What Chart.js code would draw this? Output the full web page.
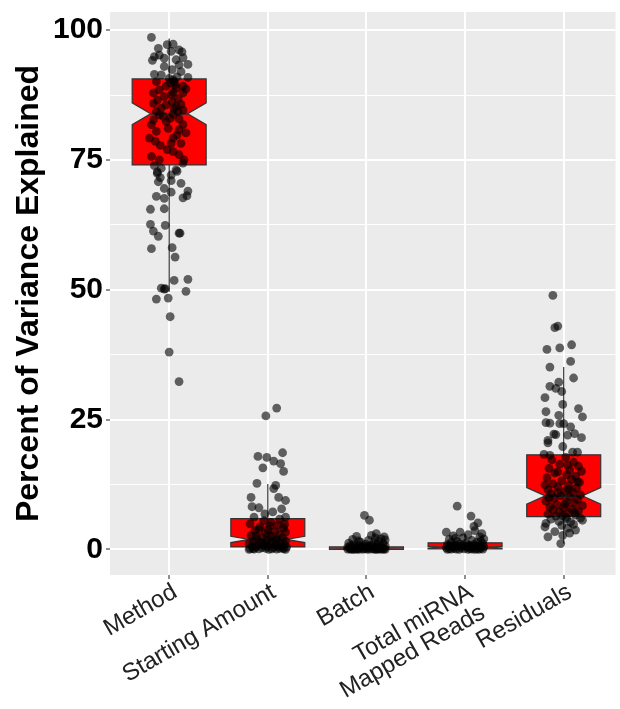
<!DOCTYPE html>
<html><head><meta charset="utf-8">
<script src="https://cdn.jsdelivr.net/npm/chart.js@4.4.0/dist/chart.umd.min.js"></script>
<style>html,body{margin:0;padding:0;background:#fff;overflow:hidden}#wrap{width:620px;height:709px;position:relative}</style>
</head><body><div id="wrap"><canvas id="c" width="620" height="709"></canvas></div>
<script>
const categories = ['Method','Starting Amount','Batch','Total miRNA Mapped Reads','Residuals'];
const tickLabels = ['Method','Starting Amount','Batch',['Total miRNA','Mapped Reads'],'Residuals'];
const yTickValues = [0,25,50,75,100];
const yMinorValues = [12.5,37.5,62.5,87.5];

// box statistics per category
const lowerWhisker = [49.6, 0.0, 0.0, 0.0, 1.1];
const lowerHinge   = [74.05, 0.45, 0.0, 0.1, 6.3];
const medians      = [83.9, 1.9, 0.1, 0.4, 10.3];
const upperHinge   = [90.6, 5.9, 0.45, 1.25, 18.2];
const upperWhisker = [98.4, 12.6, 1.1, 3.0, 35.1];
const notchLow     = [81.8, 1.3, 0.05, 0.25, 8.7];
const notchHigh    = [86.0, 2.5, 0.15, 0.55, 11.9];

// jittered points: [value, jitter offset in category units]
const methodPoints = [
[72.7,-0.12],[72.8,0.08],[71.6,-0.09],[70.8,-0.11],[71.0,0.02],[70.5,0.12],[69.5,-0.05],[68.8,0.02],[69.0,0.19],[68.1,0.18],
[67.7,0.14],[68.0,-0.13],[67.6,-0.05],[65.5,-0.19],[65.6,-0.05],[62.6,-0.19],[62.4,-0.04],[61.3,-0.16],[60.9,0.11],[60.9,0.10],
[60.3,-0.11],[57.9,-0.18],[58.1,0.03],[56.3,0.06],[51.8,0.05],[52.0,0.19],[49.7,0.17],[50.3,-0.08],[50.2,-0.04],[50.1,-0.05],
[48.2,-0.13],[48.4,-0.01],[44.8,0.01],[38.0,0.00],[32.3,0.10],
[98.6,-0.18],[97.2,-0.02],[97.3,0.04],[96.5,-0.11],[96.2,0.10],[95.8,0.13],[95.9,0.02],[94.9,-0.15],[94.2,-0.17],[95.2,-0.10],
[94.6,-0.05],[94.3,0.07],[94.7,0.14],[93.4,0.19],[93.0,-0.05],[93.3,0.10],[92.4,0.03],[92.0,0.12],[91.5,-0.15],[91.4,-0.08],
[90.9,0.19],[90.7,0.00],[90.4,0.04],[90.1,-0.13],[89.8,0.01],[90.1,0.05],[89.2,0.14],[89.2,-0.03],[88.7,0.17],[88.5,-0.10],
[88.8,0.07],[87.9,-0.16],[87.9,0.14],[87.2,-0.05],[86.8,0.09],[87.6,0.02],[85.9,-0.16],[85.6,-0.03],[85.3,0.07],[85.7,0.12],
[84.6,0.14],[84.3,-0.13],[83.7,-0.10],[83.4,-0.06],[83.8,0.04],[84.3,0.09],[82.7,-0.16],[82.4,-0.03],[82.9,0.10],[81.8,0.14],
[81.8,-0.18],[81.1,-0.01],[80.8,0.10],[80.5,-0.13],[80.2,0.17],[79.2,-0.20],[79.2,0.04],[78.6,-0.14],[77.8,-0.09],[78.2,0.02],
[78.2,0.12],[76.6,0.04],[76.0,0.10],[75.7,-0.18],[75.0,-0.10],[75.0,0.15],[74.4,0.14],[73.9,-0.15],[73.4,-0.08],[73.1,0.07],
[72.4,-0.12],[72.1,0.02],[89.5,0.06],[86.2,0.03],[84.9,0.05],[83.0,0.01],[85.0,-0.08],[88.0,0.04],[91.0,0.08],[86.5,-0.12],
[79.8,0.08],[77.0,-0.02]
];
const startingPoints = [
[27.2,0.09],[25.7,-0.02],[17.9,-0.10],[17.7,-0.01],[18.6,0.15],[17.0,0.06],[16.5,0.13],[15.7,-0.05],[15.0,0.16],[12.7,-0.11],
[12.3,0.08],[11.7,0.06],[10.0,-0.17],[10.0,0.11],[9.4,0.18],[8.2,-0.16],[8.0,-0.09],[7.8,0.14],[6.2,-0.14],[6.2,0.18],
[5.5,-0.04],[5.2,0.03],[4.9,-0.18],[4.6,0.10],[4.3,-0.08],[4.1,0.16],[3.8,0.00],[3.6,-0.13],[3.4,0.07],[3.1,-0.02],
[2.9,0.12],[2.7,-0.17],[2.5,0.04],[2.3,-0.06],[2.2,0.15],[2.0,-0.11],[1.9,0.09],[1.7,-0.01],[1.6,0.18],[1.5,-0.15],
[1.4,0.05],[1.3,-0.07],[1.2,0.13],[1.1,-0.19],[1.0,0.02],[0.9,0.17],[0.8,-0.10],[0.8,0.08],[0.7,-0.04],[0.6,0.14],
[0.6,-0.16],[0.5,0.00],[0.5,0.10],[0.4,-0.12],[0.4,0.19],[0.3,-0.06],[0.3,0.06],[0.2,-0.18],[0.2,0.12],[0.2,-0.02],
[0.1,0.16],[0.1,-0.09],[0.1,0.04],[0.05,-0.14],[0.05,0.09],[0.0,0.01],[0.0,-0.19],[0.0,0.18],[3.3,0.18],[2.6,-0.12],
[4.5,0.02],[5.8,0.12],[6.8,-0.03],[7.2,0.05],[1.8,0.08],[0.9,-0.05],[0.3,0.15],[0.15,-0.15],[2.8,0.01],[3.9,-0.09],
[4.8,0.17],[1.2,-0.02]
];
const batchPoints = [
[6.55,-0.02],[5.6,0.03],[3.0,0.10],[2.4,0.18],[2.7,0.05],[2.5,-0.10],[2.0,0.15],[1.9,-0.14],[1.7,0.02],[1.5,0.12],
[1.4,-0.06],[1.3,0.08],[1.2,-0.18],[1.1,0.17],[1.0,-0.01],[0.9,0.11],[0.9,-0.13],[0.8,0.04],[0.8,-0.08],[0.7,0.19],
[0.7,-0.16],[0.6,0.06],[0.6,-0.03],[0.5,0.14],[0.5,-0.11],[0.5,0.01],[0.4,-0.19],[0.4,0.09],[0.4,-0.05],[0.3,0.16],
[0.3,-0.14],[0.3,0.03],[0.25,-0.08],[0.2,0.12],[0.2,-0.17],[0.2,0.00],[0.15,0.18],[0.15,-0.10],[0.1,0.07],[0.1,-0.02],
[0.1,-0.15],[0.1,0.13],[0.05,-0.07],[0.05,0.10],[0.05,-0.19],[0.03,0.04],[0.02,0.17],[0.02,-0.12],[0.01,-0.04],[0.01,0.08],
[0.0,0.15],[0.0,-0.16],[0.0,0.01],[0.0,-0.09],[0.0,0.11],[0.0,0.19],[0.0,-0.13],[1.6,-0.08],[2.2,0.09],[1.8,0.19]
];
const totalPoints = [
[8.3,-0.08],[6.4,0.06],[5.1,0.13],[4.4,0.09],[3.0,0.17],[3.3,-0.19],[3.3,-0.05],[3.6,0.10],[2.8,0.03],[2.6,-0.12],
[2.4,0.15],[2.2,-0.02],[2.0,0.19],[1.9,-0.16],[1.7,0.07],[1.5,-0.08],[1.4,0.12],[1.3,-0.14],[1.2,0.01],[1.1,0.18],
[1.0,-0.05],[0.9,0.09],[0.9,-0.18],[0.8,0.04],[0.8,-0.10],[0.7,0.15],[0.7,-0.02],[0.6,0.11],[0.6,-0.15],[0.5,0.06],
[0.5,-0.07],[0.45,0.19],[0.4,-0.12],[0.4,0.02],[0.35,0.14],[0.3,-0.19],[0.3,0.08],[0.25,-0.04],[0.2,0.16],[0.2,-0.11],
[0.15,0.05],[0.1,-0.16],[0.1,0.12],[0.1,-0.01],[0.05,0.18],[0.05,-0.09],[0.03,0.07],[0.02,-0.14],[0.0,0.03],[0.0,-0.06],
[0.0,0.14],[0.0,-0.18],[0.0,0.10],[1.6,0.16],[2.1,-0.10]
];
const residualPoints = [
[48.9,-0.11],[43.0,-0.06],[42.7,-0.09],[39.4,0.08],[38.5,-0.17],[38.8,-0.04],[36.2,0.07],[35.1,-0.14],[33.0,0.10],[31.4,-0.14],
[32.2,-0.05],[31.0,-0.08],[30.4,-0.02],[29.2,-0.19],[27.9,-0.01],[27.1,0.15],[26.5,-0.18],[25.8,-0.05],[25.5,0.19],[24.4,-0.18],
[24.3,-0.14],[24.2,-0.04],[24.2,0.00],[23.6,0.07],[22.2,-0.10],[22.1,-0.08],[22.0,0.04],[22.3,0.11],[21.5,0.18],[21.0,-0.16],
[20.5,-0.16],[19.8,-0.01],[18.7,0.09],[18.7,0.14],[18.3,-0.20],[18.1,-0.14],[17.7,0.02],
[17.2,-0.12],[16.8,0.10],[16.4,-0.04],[16.0,0.15],[15.6,-0.15],[15.3,0.06],[15.0,0.18],[14.7,-0.09],[14.4,0.03],[14.1,0.12],
[13.8,-0.17],[13.5,0.08],[13.2,-0.02],[12.9,0.16],[12.6,-0.11],[12.3,0.05],[12.0,-0.06],[11.8,0.13],[11.5,-0.16],[11.2,0.01],
[11.0,0.09],[10.7,-0.13],[10.5,0.17],[10.3,-0.03],[10.1,0.06],[9.8,-0.10],[9.6,0.14],[9.3,-0.18],[9.1,0.03],[8.9,0.11],
[8.6,-0.07],[8.4,0.19],[8.2,-0.14],[8.0,0.00],[7.8,0.08],[7.6,-0.11],[7.4,0.15],[7.2,-0.04],[7.0,0.05],[6.8,-0.16],
[6.6,0.12],[6.4,-0.08],[6.2,0.02],[6.0,0.17],[5.8,-0.13],[5.6,0.19],[5.4,-0.05],[5.2,0.07],[5.0,-0.18],[4.8,0.10],
[4.6,-0.02],[4.3,-0.19],[4.1,0.04],[3.7,0.12],[3.4,-0.09],[3.1,0.06],[2.7,-0.01],[2.4,-0.16],[1.1,-0.03],
[14.9,-0.06],[13.0,0.14],[11.6,0.05],[9.9,-0.15],[8.7,0.01],[7.1,0.11],[6.5,-0.01],[5.9,0.03],[12.4,-0.19],[16.2,0.04],[10.9,-0.06]
];
const allPoints = [methodPoints, startingPoints, batchPoints, totalPoints, residualPoints];

const pointData = [];
allPoints.forEach((arr, i) => arr.forEach(([v, j]) => pointData.push({x: i + j, y: v})));

const FONT = "'Liberation Sans', Arial, Helvetica, sans-serif";
const BOX_WIDTH = 0.75, NOTCH_WIDTH = 0.5;

const panelPlugin = {
  id: 'panel',
  beforeDraw(chart) {
    const {ctx, chartArea: a} = chart;
    ctx.save();
    ctx.fillStyle = '#EBEBEB';
    ctx.fillRect(a.left, a.top, a.right - a.left, a.bottom - a.top);
    ctx.restore();
  },
  beforeDatasetsDraw(chart) {
    const {ctx, chartArea: a, scales: {x, y}} = chart;
    ctx.save();
    ctx.beginPath(); ctx.rect(a.left, a.top, a.right - a.left, a.bottom - a.top); ctx.clip();
    categories.forEach((c, i) => {
      const cx = x.getPixelForValue(i);
      const hw = x.getPixelForValue(i + BOX_WIDTH / 2) - cx;
      const inset = hw * (1 - NOTCH_WIDTH);
      const L = cx - hw, R = cx + hw;
      const yq1 = y.getPixelForValue(lowerHinge[i]), yq3 = y.getPixelForValue(upperHinge[i]);
      const ym = y.getPixelForValue(medians[i]);
      const ynl = y.getPixelForValue(notchLow[i]), ynh = y.getPixelForValue(notchHigh[i]);
      const ylw = y.getPixelForValue(lowerWhisker[i]), yuw = y.getPixelForValue(upperWhisker[i]);
      ctx.strokeStyle = '#333333'; ctx.lineWidth = 1.2;
      ctx.beginPath();
      ctx.moveTo(cx, yq3); ctx.lineTo(cx, yuw);
      ctx.moveTo(cx, yq1); ctx.lineTo(cx, ylw);
      ctx.stroke();
      ctx.beginPath();
      ctx.moveTo(L, yq3); ctx.lineTo(R, yq3); ctx.lineTo(R, ynh); ctx.lineTo(R - inset, ym);
      ctx.lineTo(R, ynl); ctx.lineTo(R, yq1); ctx.lineTo(L, yq1); ctx.lineTo(L, ynl);
      ctx.lineTo(L + inset, ym); ctx.lineTo(L, ynh); ctx.closePath();
      ctx.fillStyle = '#FF0000'; ctx.fill();
      ctx.lineWidth = 1.2; ctx.strokeStyle = '#333333'; ctx.stroke();
      ctx.beginPath(); ctx.lineWidth = 2.2;
      ctx.moveTo(L + inset, ym); ctx.lineTo(R - inset, ym); ctx.stroke();
    });
    ctx.restore();
  }
};

new Chart(document.getElementById('c'), {
  type: 'scatter',
  data: { datasets: [{
    data: pointData,
    backgroundColor: 'rgba(0,0,0,0.6)',
    borderWidth: 0,
    pointRadius: 4.4,
    pointHoverRadius: 4.4
  }]},
  options: {
    responsive: false,
    animation: false,
    events: [],
    layout: { padding: { top: 12, right: 0, left: 0, bottom: 0 } },
    plugins: { legend: { display: false }, tooltip: { enabled: false } },
    scales: {
      x: {
        type: 'linear', min: -0.6, max: 4.526,
        afterBuildTicks: s => { s.ticks = categories.map((_, i) => ({ value: i })); },
        afterFit: s => { s.height = 134; s.paddingLeft = 0; s.paddingRight = 0; },
        border: { display: false },
        grid: { color: '#FFFFFF', lineWidth: 2, tickColor: '#333333', tickWidth: 1.1, tickLength: 4 },
        ticks: {
          autoSkip: false, minRotation: 30, maxRotation: 30, padding: 1, labelOffset: 6,
          color: '#222222', font: { family: FONT, size: 24, lineHeight: 1.0 },
          callback: v => tickLabels[Math.round(v)]
        }
      },
      y: {
        type: 'linear', min: -4.95, max: 103.5,
        afterBuildTicks: s => { s.ticks = yMinorValues.concat(yTickValues).sort((a, b) => a - b).map(v => ({ value: v })); },
        afterFit: s => { s.width = 110; s.paddingTop = 0; s.paddingBottom = 0; },
        border: { display: false },
        grid: {
          color: '#FFFFFF',
          lineWidth: c => yTickValues.includes(c.tick.value) ? 2 : 1.1,
          tickColor: c => yTickValues.includes(c.tick.value) ? '#333333' : 'rgba(0,0,0,0)',
          tickWidth: 1.1, tickLength: 4
        },
        ticks: {
          padding: 3, color: '#000000',
          font: { family: FONT, size: 30, weight: 'bold' },
          callback: v => yTickValues.includes(v) ? String(v) : ''
        },
        title: {
          display: true, text: 'Percent of Variance Explained', color: '#000000',
          font: { family: FONT, size: 32, weight: 'bold', lineHeight: 1.2 },
          padding: { top: 10, bottom: 0 }
        }
      }
    }
  },
  plugins: [panelPlugin]
});
</script></body></html>
